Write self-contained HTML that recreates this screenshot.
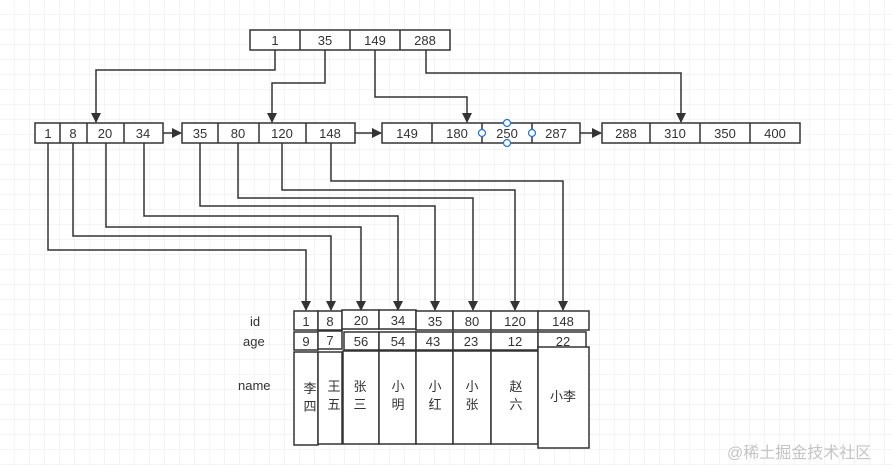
<!DOCTYPE html>
<html><head><meta charset="utf-8"><style>
html,body{margin:0;padding:0;background:#fff;}
svg{display:block;}
text{font-family:"Liberation Sans","Noto Sans CJK SC",sans-serif;font-size:13px;fill:#333;}
</style></head><body>
<svg width="892" height="465" viewBox="0 0 892 465" xmlns="http://www.w3.org/2000/svg">
<defs>
<pattern id="g" width="15" height="15" patternUnits="userSpaceOnUse">
<path d="M15 0V15M0 15H15" fill="none" stroke="#e8e8e8" stroke-width="1"/>
</pattern>
<marker id="a" markerWidth="10" markerHeight="10" refX="9" refY="5" orient="auto" markerUnits="userSpaceOnUse">
<path d="M0 0L10 5L0 10Z" fill="#333"/>
</marker>
</defs>
<rect width="892" height="465" fill="url(#g)"/>
<g fill="#fff" stroke="#333" stroke-width="1.5">
<rect x="250" y="30" width="200" height="20"/>
<rect x="35" y="123" width="128" height="20"/>
<rect x="182" y="123" width="173" height="20"/>
<rect x="382" y="123" width="198" height="20"/>
<rect x="602" y="123" width="198" height="20"/>
</g>
<g stroke="#333" stroke-width="1.5">
<path d="M300 30V50M350 30V50M400 30V50"/>
<path d="M60 123V143M87 123V143M124 123V143"/>
<path d="M218 123V143M259 123V143M306 123V143"/>
<path d="M432 123V143M482 123V143M532 123V143"/>
<path d="M650 123V143M700 123V143M750 123V143"/>
</g>
<g text-anchor="middle">
<text x="275" y="45">1</text><text x="325" y="45">35</text><text x="375" y="45">149</text><text x="425" y="45">288</text>
<text x="48" y="138">1</text><text x="73" y="138">8</text><text x="105" y="138">20</text><text x="143" y="138">34</text>
<text x="200" y="138">35</text><text x="238" y="138">80</text><text x="282" y="138">120</text><text x="330" y="138">148</text>
<text x="407" y="138">149</text><text x="457" y="138">180</text><text x="507" y="138">250</text><text x="556" y="138">287</text>
<text x="626" y="138">288</text><text x="675" y="138">310</text><text x="725" y="138">350</text><text x="775" y="138">400</text>
</g>
<g fill="#fff" stroke="#1a73e8" stroke-width="1.2">
<circle cx="482" cy="133" r="3.5"/><circle cx="532" cy="133" r="3.5"/><circle cx="507" cy="123" r="3.5"/><circle cx="507" cy="143" r="3.5"/>
</g>
<g fill="none" stroke="#333" stroke-width="1.5" marker-end="url(#a)">
<path d="M275 50V70H96V122"/>
<path d="M325 50V83H272V122"/>
<path d="M375 50V97H467V122"/>
<path d="M426 50V73H681V122"/>
<path d="M163 133H181"/>
<path d="M355 133H381"/>
<path d="M580 133H601"/>
<path d="M48 143V250H306V310"/>
<path d="M73 143V236H331V310"/>
<path d="M106 143V227H361V310"/>
<path d="M144 143V216H398V310"/>
<path d="M200 143V206H435V310"/>
<path d="M238 143V198H473V310"/>
<path d="M282 143V190H515V310"/>
<path d="M331 143V181H563V310"/>
</g>
<g fill="#fff" stroke="#333" stroke-width="1.5">
<rect x="294" y="311" width="24" height="19"/><rect x="318" y="311" width="24" height="19"/>
<rect x="342" y="310" width="37" height="19"/><rect x="379" y="310" width="37" height="19"/>
<rect x="416" y="311" width="37" height="19"/><rect x="453" y="311" width="38" height="19"/>
<rect x="491" y="311" width="47" height="19"/><rect x="538" y="311" width="51" height="19"/>
<rect x="294" y="332" width="24" height="18"/><rect x="318" y="331" width="24" height="18"/>
<rect x="344" y="332" width="35" height="18"/><rect x="379" y="332" width="37" height="18"/>
<rect x="416" y="332" width="37" height="18"/><rect x="453" y="332" width="38" height="18"/>
<rect x="491" y="332" width="47" height="18"/><rect x="538" y="332" width="48" height="18"/>
<rect x="294" y="352" width="24" height="93"/><rect x="318" y="352" width="24" height="92"/>
<rect x="343" y="351" width="36" height="93"/><rect x="379" y="351" width="37" height="93"/>
<rect x="416" y="351" width="37" height="93"/><rect x="453" y="351" width="38" height="93"/>
<rect x="491" y="351" width="47" height="93"/><rect x="538" y="347" width="51" height="101"/>
</g>
<text x="250" y="326">id</text>
<text x="243" y="346">age</text>
<text x="238" y="390">name</text>
<g text-anchor="middle">
<text x="306" y="326">1</text><text x="330" y="326">8</text><text x="361" y="325">20</text><text x="398" y="325">34</text>
<text x="435" y="326">35</text><text x="472" y="326">80</text><text x="515" y="326">120</text><text x="563" y="326">148</text>
<text x="306" y="346">9</text><text x="330" y="345">7</text><text x="361" y="346">56</text><text x="398" y="346">54</text>
<text x="433" y="346">43</text><text x="471" y="346">23</text><text x="515" y="346">12</text><text x="563" y="346">22</text>
<text x="310" y="393">李</text><text x="310" y="411">四</text>
<text x="334" y="391">王</text><text x="334" y="409">五</text>
<text x="360" y="391">张</text><text x="360" y="409">三</text>
<text x="398" y="391">小</text><text x="398" y="409">明</text>
<text x="435" y="391">小</text><text x="435" y="409">红</text>
<text x="472" y="391">小</text><text x="472" y="409">张</text>
<text x="516" y="391">赵</text><text x="516" y="409">六</text>
<text x="563" y="401">小李</text>
</g>
<text x="727" y="458" style="font-size:16px;fill:#c4c4c4">@稀土掘金技术社区</text>
</svg>
</body></html>
